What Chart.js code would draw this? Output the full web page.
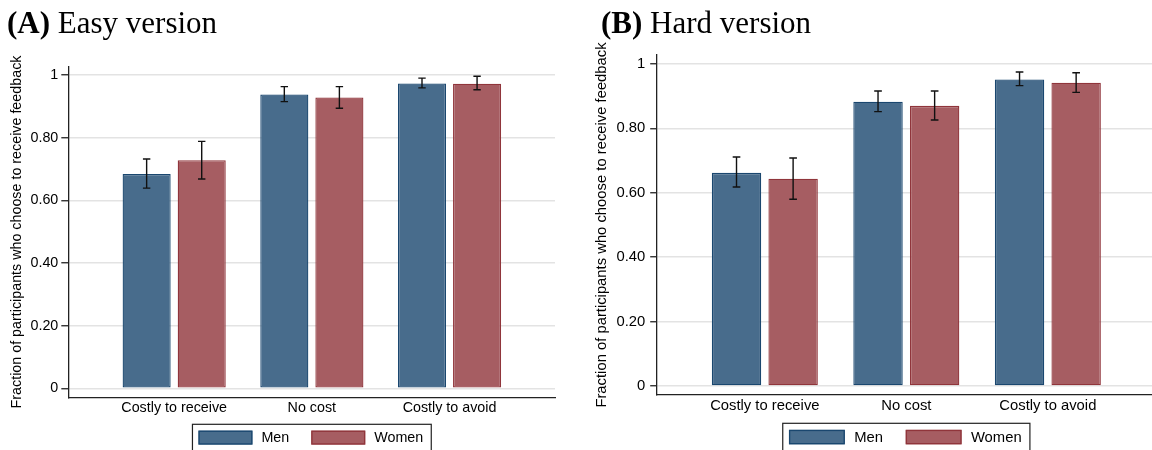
<!DOCTYPE html>
<html>
<head>
<meta charset="utf-8">
<script src="https://cdn.jsdelivr.net/npm/chart.js@4.4.1/dist/chart.umd.min.js"></script>
<style>
  html, body { margin: 0; padding: 0; background: #fff; overflow: hidden; }
  #wrap { position: relative; width: 1152px; height: 450px; }
  .panel { position: absolute; top: 0; width: 576px; height: 450px; }
  .title {
    position: absolute; top: 7px; white-space: nowrap; color: #000;
    font-family: 'Liberation Serif', 'Times New Roman', serif;
    font-size: 31px; line-height: 31px;
  }
</style>
</head>
<body>
<div id="wrap">
  <div class="panel" style="left:0"><canvas id="chartA" width="576" height="450"></canvas></div>
  <div class="panel" style="left:576px"><canvas id="chartB" width="576" height="450"></canvas></div>
  <div class="title" style="left:7px"><b>(A)</b> Easy version</div>
  <div class="title" style="left:601px"><b>(B)</b> Hard version</div>
</div>
<script>
// data
const categories = ['Costly to receive', 'No cost', 'Costly to avoid'];
const seriesNames = ['Men', 'Women'];
const yTickValues = [0, 0.2, 0.4, 0.6, 0.8, 1];
const yTickLabels = ['0', '0.20', '0.40', '0.60', '0.80', '1'];
const yTitle = 'Fraction of participants who choose to receive feedback';

// (A) easy version
const easyMen = [0.684, 0.938, 0.973];
const easyMenLo = [0.639, 0.915, 0.959];
const easyMenHi = [0.732, 0.963, 0.990];
const easyWomen = [0.728, 0.928, 0.972];
const easyWomenLo = [0.668, 0.894, 0.953];
const easyWomenHi = [0.788, 0.963, 0.996];

// (B) hard version
const hardMen = [0.662, 0.883, 0.952];
const hardMenLo = [0.618, 0.852, 0.933];
const hardMenHi = [0.711, 0.916, 0.975];
const hardWomen = [0.644, 0.870, 0.942];
const hardWomenLo = [0.580, 0.826, 0.912];
const hardWomenHi = [0.708, 0.916, 0.973];

const fillColors = ['rgb(72,108,140)', 'rgb(166,93,98)'];
const lineColors = ['rgb(26,71,111)', 'rgb(144,53,59)'];
const sans = "'Liberation Sans', Arial, Helvetica, sans-serif";
const axisColor = '#222';
const gridColor = '#e3e3e3';

// stata style confidence intervals
const errorBars = {
  id: 'errorBars',
  afterDatasetsDraw(chart, args, opts) {
    const ctx = chart.ctx;
    const y = chart.scales.y;
    const cap = opts.cap || 3.7;
    ctx.save();
    ctx.strokeStyle = '#111';
    ctx.lineWidth = 1.4;
    chart.data.datasets.forEach((ds, i) => {
      chart.getDatasetMeta(i).data.forEach((bar, j) => {
        const x = bar.x;
        const y1 = y.getPixelForValue(ds.lo[j]);
        const y2 = y.getPixelForValue(ds.hi[j]);
        ctx.beginPath();
        ctx.moveTo(x, y1); ctx.lineTo(x, y2);
        ctx.moveTo(x - cap, y1); ctx.lineTo(x + cap, y1);
        ctx.moveTo(x - cap, y2); ctx.lineTo(x + cap, y2);
        ctx.stroke();
      });
    });
    ctx.restore();
  }
};

// boxed legend under the middle category
const boxLegend = {
  id: 'boxLegend',
  afterDraw(chart, args, opts) {
    const ctx = chart.ctx;
    const s = opts.scale;
    ctx.save();
    ctx.font = opts.fontSize + 'px ' + sans;
    const items = chart.data.datasets.map(ds => ({
      label: ds.label, fill: ds.backgroundColor, line: ds.borderColor,
      w: ctx.measureText(ds.label).width
    }));
    const sw = 54 * s, sh = 14 * s, padL = 6 * s, padR = 8 * s, gapT = 9 * s, gapI = 22 * s;
    let total = padL + padR;
    items.forEach((it, k) => { total += sw + gapT + it.w + (k ? gapI : 0); });
    const cx = chart.scales.x.getPixelForValue(1);
    const left = cx - total / 2;
    const top = opts.top;
    ctx.strokeStyle = axisColor;
    ctx.lineWidth = 1.2;
    ctx.strokeRect(left, top, total, 40);
    let x = left + padL;
    const sy = top + 6.3 * s;
    ctx.textBaseline = 'middle';
    ctx.fillStyle = '#000';
    items.forEach((it, k) => {
      if (k) x += gapI;
      ctx.fillStyle = it.fill;
      ctx.fillRect(x, sy, sw, sh);
      ctx.strokeStyle = it.line;
      ctx.lineWidth = 1.3;
      ctx.strokeRect(x + 0.65, sy + 0.65, sw - 1.3, sh - 1.3);
      x += sw + gapT;
      ctx.fillStyle = '#000';
      ctx.fillText(it.label, x, sy + sh / 2 + 0.5);
      x += it.w;
    });
    ctx.restore();
  }
};

function makePanel(id, men, menLo, menHi, women, womenLo, womenHi, p) {
  const font = { family: sans, size: p.fontSize };
  const mk = (vals, lo, hi, k) => ({
    label: seriesNames[k],
    data: vals.map((v, i) => ({ x: i, y: v })),
    lo: lo, hi: hi,
    backgroundColor: fillColors[k],
    borderColor: lineColors[k],
    borderWidth: 1.3,
    borderSkipped: false
  });
  return new Chart(document.getElementById(id), {
    type: 'bar',
    data: {
      datasets: [mk(men, menLo, menHi, 0), mk(women, womenLo, womenHi, 1)]
    },
    options: {
      responsive: false,
      animation: false,
      devicePixelRatio: 1,
      categoryPercentage: 0.8,
      barPercentage: 0.873,
      layout: { padding: { left: 0, right: p.padRight, top: p.top, bottom: 0 } },
      plugins: {
        legend: { display: false },
        tooltip: { enabled: false },
        boxLegend: { top: p.legendTop, scale: p.s, fontSize: p.fontSize },
        errorBars: { cap: 3.7 * p.s }
      },
      scales: {
        x: {
          type: 'linear',
          min: p.xMin, max: p.xMax,
          offset: false,
          afterBuildTicks: sc => { sc.ticks = categories.map((c, i) => ({ value: i })); },
          afterFit: sc => { sc.height = p.xHeight; },
          grid: { display: false, drawTicks: false, tickLength: 0 },
          border: { display: true, color: axisColor, width: 1.3 },
          ticks: { callback: v => categories[v], font: font, color: '#000', padding: 2, maxRotation: 0, autoSkip: false }
        },
        y: {
          min: p.yMin, max: p.yMax,
          afterBuildTicks: sc => { sc.ticks = yTickValues.map(v => ({ value: v })); },
          afterFit: sc => { sc.width = p.yWidth; },
          grid: { color: gridColor, lineWidth: 1.5, drawTicks: true, tickLength: p.tickLen, tickColor: axisColor, tickWidth: 1.3 },
          border: { display: true, color: axisColor, width: 1.3 },
          ticks: { callback: (v, i) => yTickLabels[i], font: font, color: '#000', padding: p.tickPad, autoSkip: false },
          title: { display: true, text: yTitle, font: font, color: '#000', padding: { top: p.titlePad, bottom: 0 } }
        }
      }
    },
    plugins: [errorBars, boxLegend]
  });
}

makePanel('chartA', easyMen, easyMenLo, easyMenHi, easyWomen, easyWomenLo, easyWomenHi, {
  yMin: -0.0287, yMax: 1.0265, xMin: -0.769, xMax: 2.766,
  top: 66.7, padRight: 21, yWidth: 68.3, xHeight: 52.7,
  tickLen: 7, tickPad: 3, titlePad: 8, fontSize: 14.3, legendTop: 424.3, s: 1
});

makePanel('chartB', hardMen, hardMenLo, hardMenHi, hardWomen, hardWomenLo, hardWomenHi, {
  yMin: -0.028, yMax: 1.028, xMin: -0.764, xMax: 2.736,
  top: 55, padRight: 0, yWidth: 80.7, xHeight: 55,
  tickLen: 6.5, tickPad: 5, titlePad: 17, fontSize: 14.8, legendTop: 423.3, s: 1.035
});
</script>
</body>
</html>
